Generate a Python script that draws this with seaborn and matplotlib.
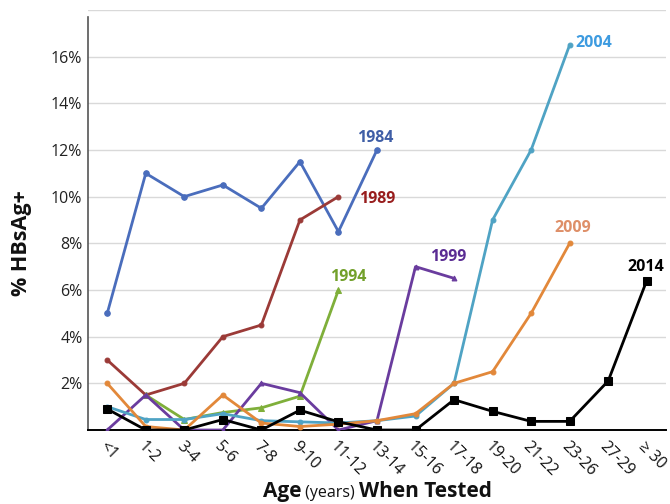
import numpy as np
import pandas as pd
import matplotlib
matplotlib.use("Agg")
import matplotlib.pyplot as plt
import seaborn as sns
from matplotlib.offsetbox import TextArea, HPacker, AnnotationBbox

# Age groups at time of testing
ages = ["<1", "1-2", "3-4", "5-6", "7-8", "9-10", "11-12", "13-14",
        "15-16", "17-18", "19-20", "21-22", "23-26", "27-29", "\u2265 30"]

# % HBsAg+ by survey year (None = group not tested)
y1984 = [5.0, 11.0, 10.0, 10.5, 9.5, 11.5, 8.5, 12.0]
y1989 = [3.0, 1.5, 2.0, 4.0, 4.5, 9.0, 10.0]
y1994 = [None, 1.5, 0.45, 0.75, 0.95, 1.45, 6.0]
y1999 = [0.0, 1.5, 0.0, 0.0, 2.0, 1.6, 0.0, 0.4, 7.0, 6.5]
y2004 = [1.0, 0.45, 0.45, 0.7, 0.4, 0.35, 0.3, 0.4, 0.6, 2.0, 9.0, 12.0, 16.5]
y2009 = [2.0, 0.15, 0.0, 1.5, 0.3, 0.15, 0.25, 0.4, 0.7, 2.0, 2.5, 5.0, 8.0]
y2014 = [0.9, 0.0, 0.0, 0.45, 0.0, 0.85, 0.35, 0.0, 0.0, 1.3, 0.8, 0.37, 0.37, 2.1, 6.4]

series = {
    "1984": y1984, "1989": y1989, "1994": y1994, "1999": y1999,
    "2004": y2004, "2009": y2009, "2014": y2014,
}

styles = {
    "1984": dict(color="#4A6DBC", marker="o", ms=4),
    "1989": dict(color="#9B3A37", marker="o", ms=3.5),
    "1994": dict(color="#7FAF3A", marker="^", ms=4),
    "1999": dict(color="#6A3C9E", marker="^", ms=3.5),
    "2004": dict(color="#4FA3C4", marker="o", ms=3.5),
    "2009": dict(color="#E2883A", marker="o", ms=3.5),
    "2014": dict(color="#000000", marker="s", ms=5.5),
}

label_style = {
    "1984": dict(pos=(6.96, 12.5), color="#3F5EA6"),
    "1989": dict(pos=(7.0, 9.9), color="#981D1D"),
    "1994": dict(pos=(6.26, 6.55), color="#72A02A"),
    "1999": dict(pos=(8.86, 7.4), color="#5A2C93"),
    "2004": dict(pos=(12.62, 16.6), color="#3D9BE0"),
    "2009": dict(pos=(12.08, 8.65), color="#DE8F68"),
    "2014": dict(pos=(13.97, 7.0), color="#000000"),
}

rows = []
for year, vals in series.items():
    for i, v in enumerate(vals):
        if v is not None:
            rows.append({"year": year, "age": i, "pct": v / 100.0})
df = pd.DataFrame(rows)

sns.set_theme(style="white")
plt.rcParams["font.family"] = ["Open Sans", "DejaVu Sans"]

fig = plt.figure(figsize=(6.7, 5.04), dpi=100)
ax = fig.add_axes([0.1313, 0.1468, 0.8627, 0.8335])

for year in series:
    st = styles[year]
    sub = df[df["year"] == year]
    sns.lineplot(data=sub, x="age", y="pct", ax=ax, color=st["color"],
                 marker=st["marker"], markersize=st["ms"],
                 markeredgecolor=st["color"], linewidth=2.0,
                 legend=False, zorder=3)
    ls = label_style[year]
    ax.text(ls["pos"][0], ls["pos"][1] / 100.0, year, color=ls["color"],
            fontsize=11.5, fontweight="bold", ha="center", va="center")

ax.set_xlim(-0.5, len(ages) - 0.5)
ax.set_ylim(0, 0.18)
ticks = np.arange(0.02, 0.181, 0.02)
ax.set_yticks(ticks)
ax.set_yticklabels([f"{int(round(t * 100))}%" if t < 0.17 else "" for t in ticks],
                   fontsize=11.5, color="#222222")
ax.yaxis.grid(True, color="#D9D9D9", linewidth=1.0)
ax.set_axisbelow(True)

ax.set_xticks(range(len(ages)))
ax.set_xticklabels(ages, rotation=-45, ha="left", va="top",
                   rotation_mode="anchor", fontsize=11.5, color="#111111")
ax.tick_params(axis="x", length=0, pad=6)
ax.tick_params(axis="y", length=0, pad=4)

for side in ["top", "right"]:
    ax.spines[side].set_visible(False)
ax.spines["left"].set_color("#555555")
ax.spines["left"].set_linewidth(1.2)
ax.spines["left"].set_bounds(0, 0.177)
ax.spines["bottom"].set_color("#000000")
ax.spines["bottom"].set_linewidth(1.4)

ax.set_xlabel("")
ax.set_ylabel("% HBsAg+", fontsize=15.5, fontweight="bold", color="#111111")
ax.yaxis.set_label_coords(-0.097, 0.445)

# Mixed-weight x-axis title
parts = HPacker(children=[
    TextArea("Age", textprops=dict(fontsize=15, fontweight="bold", color="#111111")),
    TextArea(" (years) ", textprops=dict(fontsize=11.5, color="#111111")),
    TextArea("When Tested", textprops=dict(fontsize=15, fontweight="bold", color="#111111")),
], align="baseline", pad=0, sep=0)
ab = AnnotationBbox(parts, (0.563, 0.025), xycoords="figure fraction",
                    frameon=False, box_alignment=(0.5, 0.5))
fig.add_artist(ab)

fig.savefig("out.png", dpi=100)
